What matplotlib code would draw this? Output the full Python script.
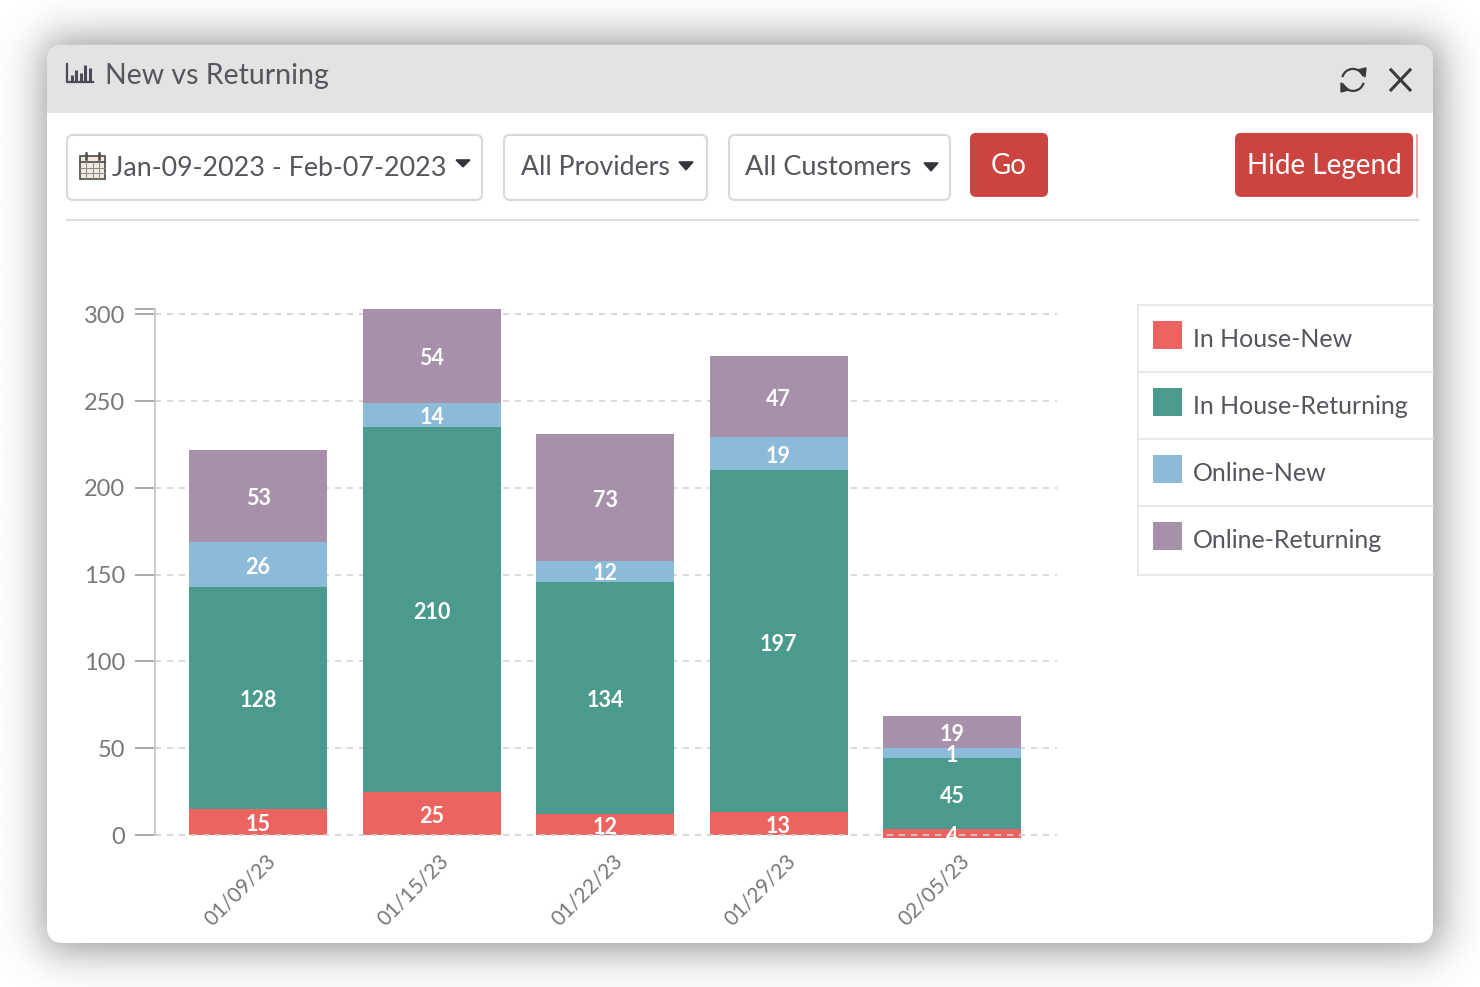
import numpy as np
import matplotlib
matplotlib.use("Agg")
import matplotlib.pyplot as plt
from matplotlib.patches import FancyBboxPatch, Rectangle, Polygon, Arc
from matplotlib.transforms import ScaledTranslation

plt.rcParams['font.family'] = ['Lato', 'DejaVu Sans']

# chart data
dates = ["01/09/23", "01/15/23", "01/22/23", "01/29/23", "02/05/23"]
series_names = ["In House-New", "In House-Returning", "Online-New", "Online-Returning"]
in_house_new = [15, 25, 12, 13, 4]
in_house_returning = [128, 210, 134, 197, 45]
online_new = [26, 14, 12, 19, 1]
online_returning = [53, 54, 73, 47, 19]
y_ticks = [0, 50, 100, 150, 200, 250, 300]

# the last column is not drawn to scale in the original (tiny segments get a
# minimum height), so the heights as seen on screen are kept apart from the labels
drawn_in_house_new = [15, 25, 12, 13, 5.2]
drawn_in_house_returning = [128, 210, 134, 197, 41]
drawn_online_new = [26, 14, 12, 19, 5.7]
drawn_online_returning = [53, 54, 73, 47, 18.5]
drawn_base = [0, 0, 0, 0, -1.7]

series_colors = ["#ec6460", "#4a9b8e", "#8cbbd9", "#a791aa"]
TEXT = "#55555c"
RED_BTN = "#cb4440"

W, H = 1480, 987
fig = plt.figure(figsize=(W / 100, (H + 0.1) / 100), dpi=100, facecolor="white")

# background axes in pixel coords, holds the widget chrome
bg = fig.add_axes([0, 0, 1, 1])
bg.set_xlim(0, W)
bg.set_ylim(H, 0)
bg.axis("off")


def box(x0, y0, x1, y1, face="white", edge="none", r=6, lw=1.5, z=2):
    p = FancyBboxPatch((x0 + r, y0 + r), x1 - x0 - 2 * r, y1 - y0 - 2 * r,
                       boxstyle=f"round,pad={r},rounding_size={r}",
                       facecolor=face, edgecolor=edge, linewidth=lw, zorder=z)
    bg.add_patch(p)
    return p


def caret(x0, x1, y0, y1):
    bg.add_patch(Polygon([(x0, y0), (x1, y0), ((x0 + x1) / 2, y1)], color="#333338", zorder=4))


# soft drop shadow around the card
xx, yy = np.meshgrid(np.arange(W), np.arange(H))
sig = 12.5
shade = (1 / (1 + np.exp(-(xx - 44) / sig))) * (1 / (1 + np.exp((xx - 1440) / sig)))
shade = shade * (1 / (1 + np.exp(-(yy - 40) / sig))) * (1 / (1 + np.exp((yy - 950) / sig)))
bg.imshow(1 - 0.42 * shade, cmap="gray", vmin=0, vmax=1, extent=(0, W, H, 0),
          aspect="auto", zorder=0, interpolation="bilinear")
bg.set_xlim(0, W)
bg.set_ylim(H, 0)

# card and header
card = box(47, 45, 1433, 943, r=16, z=1)
header = Rectangle((47, 45), 1386, 68, facecolor="#e3e3e3", edgecolor="none", zorder=1.5)
bg.add_patch(header)
header.set_clip_path(card)

bg.text(105, 76, "New vs Returning", fontsize=20.5, color=TEXT, va="center", ha="left", zorder=4)

# bar chart icon in the header
bg.plot([67, 67, 93], [64, 82, 82], color="#4a4a58", lw=1.6, zorder=4)
for bx, top in zip([71.5, 76, 80.5, 85, 89.5], [75, 70, 73, 65, 68]):
    bg.plot([bx, bx], [81, top], color="#4a4a58", lw=2.2, zorder=4, solid_capstyle="butt")

# refresh icon
for start, end in [(195, 340), (15, 160)]:
    bg.add_patch(Arc((1353, 80), 22, 22, theta1=start, theta2=end, color="#3a3a3a", lw=1.6, zorder=4))
bg.add_patch(Polygon([(1358, 70), (1366, 68), (1365, 77)], color="#3a3a3a", zorder=4))
bg.add_patch(Polygon([(1341, 83), (1349, 90), (1341, 92)], color="#3a3a3a", zorder=4))

# close icon
bg.plot([1391, 1410], [70, 90], color="#3a3a3a", lw=2.2, zorder=4)
bg.plot([1391, 1410], [90, 70], color="#3a3a3a", lw=2.2, zorder=4)

# filter row
box(67, 135, 482, 200, edge="#d8d8d8")
bg.text(112, 168, "Jan-09-2023 - Feb-07-2023", fontsize=19.4, color=TEXT, va="center", ha="left", zorder=4)
caret(456, 470, 160, 167)
box(504, 135, 707, 200, edge="#d8d8d8")
bg.text(521, 167, "All Providers", fontsize=19.2, color=TEXT, va="center", ha="left", zorder=4)
caret(679, 693, 162, 170)
box(729, 135, 950, 200, edge="#d8d8d8")
bg.text(745, 167, "All Customers", fontsize=19.5, color=TEXT, va="center", ha="left", zorder=4)
caret(924, 938, 163, 171)

# calendar icon
bg.add_patch(Rectangle((80, 156), 25, 23, facecolor="#efe9e0", edgecolor="#4a4a4a", lw=1.2, zorder=4))
bg.plot([80, 105], [162, 162], color="#4a4a4a", lw=1.2, zorder=5)
for gx in [86, 92.5, 99]:
    bg.plot([gx, gx], [162, 179], color="#8a8a8a", lw=0.7, zorder=5)
for gy in [168, 173.5]:
    bg.plot([80, 105], [gy, gy], color="#8a8a8a", lw=0.7, zorder=5)
for gx in [86, 99]:
    bg.plot([gx, gx], [153, 159], color="#4a4a4a", lw=1.8, zorder=5)

# red buttons
box(970, 133, 1048, 197, face=RED_BTN)
bg.text(1009, 165.5, "Go", fontsize=20, color="white", va="center", ha="center", zorder=4)
box(1235, 133, 1413, 197, face=RED_BTN)
bg.text(1324, 165.5, "Hide Legend", fontsize=20, color="white", va="center", ha="center", zorder=4)
bg.plot([1417, 1417], [135, 197], color="#e8999a", lw=1.2, zorder=4)
bg.plot([67, 1418], [220, 220], color="#dddddd", lw=1.6, zorder=2)

# legend list
for ly in [305, 372, 439, 506, 575]:
    bg.plot([1138, 1433], [ly, ly], color="#e6e6e6", lw=1.3, zorder=2)
bg.plot([1138, 1138], [305, 575], color="#e6e6e6", lw=1.3, zorder=2)
for name, col, ly in zip(series_names, series_colors, [338, 405, 472, 539]):
    bg.add_patch(Rectangle((1153, ly - 17), 29, 28, facecolor=col, edgecolor="none", zorder=3))
    bg.text(1193, ly + 1, name, fontsize=18, color=TEXT, va="center", ha="left", zorder=4)

# the stacked bars
all_series = [in_house_new, in_house_returning, online_new, online_returning]
all_drawn = [drawn_in_house_new, drawn_in_house_returning, drawn_online_new, drawn_online_returning]
totals = np.sum(all_series, axis=0)

ax = fig.add_axes([155 / W, (H - 835) / H, (1057 - 155) / W, (835 - 309) / H])
ax.patch.set_alpha(0)
x = np.arange(len(dates))
bottom = np.array(drawn_base, dtype=float)
for k, (vals, drawn, col) in enumerate(zip(all_series, all_drawn, series_colors)):
    bars = ax.bar(x, drawn, width=0.795, bottom=bottom, color=col, zorder=3, clip_on=False)
    for rect, v, h, b in zip(bars, vals, drawn, bottom):
        t = ax.annotate(str(v), (rect.get_x() + rect.get_width() / 2, b + h / 2),
                        xytext=(0, -2), textcoords="offset points", color="white",
                        fontsize=15.5, fontweight="bold", ha="center", va="center", zorder=6)
        # small bottom segments cut their label off at the bar edge
        if k == 0:
            t.set_clip_on(True)
            t.set_clip_path(Rectangle((rect.get_x(), -1.7), rect.get_width(), 40, transform=ax.transData))
    bottom = bottom + np.array(drawn)

ax.set_xlim(-0.594, 4.605)
ax.set_ylim(0, totals.max())
ax.set_yticks(y_ticks)
ax.set_yticks([totals.max()], minor=True)
ax.set_xticks(x)
ax.set_xticklabels(dates, rotation=45, ha="center", fontsize=15, color="#77777c")
ax.tick_params(axis="x", length=0, pad=11)
ax.tick_params(axis="y", which="both", length=14.5, width=1.4, color="#aaaaaa", labelsize=17, labelcolor="#77777c", pad=7)
ax.tick_params(axis="y", which="minor", labelleft=False)
for lab in ax.get_xticklabels():
    lab.set_transform(lab.get_transform() + ScaledTranslation(-0.18, 0, fig.dpi_scale_trans))

for s in ["top", "right", "bottom"]:
    ax.spines[s].set_visible(False)
ax.spines["left"].set_color("#c8c8c8")
ax.spines["left"].set_linewidth(1.4)

ax.set_axisbelow(True)
ax.grid(axis="y", color="#d2d2d2", lw=1.2, dashes=(3.6, 3.6))
ax.axhline(0, color="#d2d2d2", lw=1.2, dashes=(3.6, 3.6), zorder=4, clip_on=False)

fig.savefig("out.png", dpi=100)
